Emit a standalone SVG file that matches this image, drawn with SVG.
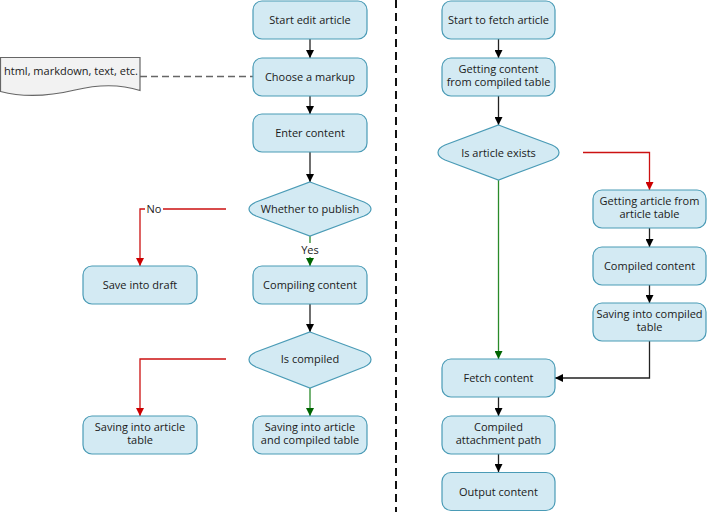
<svg xmlns="http://www.w3.org/2000/svg" width="707" height="512" viewBox="0 0 707 512">
<style>
.box{fill:#d3eaf3;stroke:#4a9bb6;stroke-width:1.2}
.t{font-family:"Open Sans","Noto Sans",sans-serif;font-size:11px;fill:#1a1a1a;text-anchor:middle}
.blk{stroke:#222;stroke-width:1.3;fill:none}
.red{stroke:#cc1111;stroke-width:1.3;fill:none}
.grn{stroke:#2a8a2a;stroke-width:1.3;fill:none}
</style>
<defs>
<marker id="ab" viewBox="0 0 10 10" refX="10" refY="5" markerWidth="8" markerHeight="8" markerUnits="userSpaceOnUse" orient="auto"><path d="M0,0 L10,5 L0,10 Z" fill="#000"/></marker>
<marker id="ar" viewBox="0 0 10 10" refX="10" refY="5" markerWidth="8" markerHeight="8" markerUnits="userSpaceOnUse" orient="auto"><path d="M0,0 L10,5 L0,10 Z" fill="#cc0000"/></marker>
<marker id="ag" viewBox="0 0 10 10" refX="10" refY="5" markerWidth="8" markerHeight="8" markerUnits="userSpaceOnUse" orient="auto"><path d="M0,0 L10,5 L0,10 Z" fill="#006400"/></marker>
</defs>
<rect width="707" height="512" fill="#fff"/>
<line x1="396" y1="0" x2="396" y2="512" stroke="#111" stroke-width="2" stroke-dasharray="8,5"/>
<g id="connectors">
<line class="blk" x1="310" y1="39" x2="310" y2="58" marker-end="url(#ab)"/>
<line class="blk" x1="310" y1="96" x2="310" y2="114" marker-end="url(#ab)"/>
<line class="blk" x1="310" y1="152" x2="310" y2="182" marker-end="url(#ab)"/>
<line x1="140" y1="76.5" x2="253" y2="76.5" stroke="#666" stroke-width="1.5" stroke-dasharray="7,4"/>
<polyline class="red" points="226,209 140,209 140,266" marker-end="url(#ar)"/>
<line class="grn" x1="310" y1="236" x2="310" y2="266" marker-end="url(#ag)"/>
<line class="blk" x1="310" y1="304" x2="310" y2="332" marker-end="url(#ab)"/>
<polyline class="red" points="226,359 140,359 140,416" marker-end="url(#ar)"/>
<line class="grn" x1="310" y1="388" x2="310" y2="416" marker-end="url(#ag)"/>
<line class="blk" x1="498.5" y1="39" x2="498.5" y2="58" marker-end="url(#ab)"/>
<line class="blk" x1="498.5" y1="96" x2="498.5" y2="125" marker-end="url(#ab)"/>
<polyline class="red" points="583,152.5 649.5,152.5 649.5,190" marker-end="url(#ar)"/>
<line class="grn" x1="498.5" y1="180" x2="498.5" y2="359" marker-end="url(#ag)"/>
<line class="blk" x1="649.5" y1="228" x2="649.5" y2="247" marker-end="url(#ab)"/>
<line class="blk" x1="649.5" y1="285" x2="649.5" y2="303" marker-end="url(#ab)"/>
<polyline class="blk" points="649.5,341 649.5,378 555,378" marker-end="url(#ab)"/>
<line class="blk" x1="498.5" y1="397" x2="498.5" y2="416" marker-end="url(#ab)"/>
<line class="blk" x1="498.5" y1="454" x2="498.5" y2="472" marker-end="url(#ab)"/>
<rect x="145" y="202" width="18" height="14" fill="#fff"/>
<text class="t" x="154" y="213">No</text>
<rect x="299" y="243" width="22" height="14" fill="#fff"/>
<text class="t" x="310" y="254">Yes</text>
</g>
<g id="doc">
<path d="M0.5,57.5 L140,57.5 L140,90.5 C120,84 100,84 75,90 C50,96 25,98 0.5,91.5 Z" fill="#f2f2f2" stroke="#666" stroke-width="1.2"/>
<text class="t" x="71" y="75">html, markdown, text, etc.</text>
</g>
<g id="n1"><rect class="box" x="253" y="1" width="114" height="38" rx="9"/><text class="t" x="310" y="24">Start edit article</text></g>
<g id="n2"><rect class="box" x="253" y="58" width="114" height="38" rx="9"/><text class="t" x="310" y="81">Choose a markup</text></g>
<g id="n3"><rect class="box" x="253" y="114" width="114" height="38" rx="9"/><text class="t" x="310" y="137">Enter content</text></g>
<g id="d1"><path class="box" d="M310,182 L364,202 Q371,205 371,209 Q371,213 364,216 L310,236 L256,216 Q249,213 249,209 Q249,205 256,202 Z"/><text class="t" x="310" y="213">Whether to publish</text></g>
<g id="n4"><rect class="box" x="83" y="266" width="114" height="38" rx="9"/><text class="t" x="140" y="289">Save into draft</text></g>
<g id="n5"><rect class="box" x="253" y="266" width="114" height="38" rx="9"/><text class="t" x="310" y="289">Compiling content</text></g>
<g id="d2"><path class="box" d="M310,332 L364,352 Q371,355 371,359.5 Q371,364 364,367 L310,388 L256,367 Q249,364 249,359.5 Q249,355 256,352 Z"/><text class="t" x="310" y="363">Is compiled</text></g>
<g id="n6"><rect class="box" x="83" y="416" width="114" height="38" rx="9"/><text class="t" x="140" y="430.5">Saving into article</text><text class="t" x="140" y="444">table</text></g>
<g id="n7"><rect class="box" x="253" y="416" width="114" height="38" rx="9"/><text class="t" x="310" y="430.5">Saving into article</text><text class="t" x="310" y="444">and compiled table</text></g>
<g id="r1"><rect class="box" x="442" y="1" width="113" height="38" rx="9"/><text class="t" x="498.5" y="24">Start to fetch article</text></g>
<g id="r2"><rect class="box" x="442" y="58" width="113" height="38" rx="9"/><text class="t" x="498.5" y="72.5">Getting content</text><text class="t" x="498.5" y="86">from compiled table</text></g>
<g id="d3"><path class="box" d="M498.5,125 L552,145 Q559,148 559,152.5 Q559,157 552,160 L498.5,180 L445,160 Q438,157 438,152.5 Q438,148 445,145 Z"/><text class="t" x="498.5" y="156.5">Is article exists</text></g>
<g id="r3"><rect class="box" x="593" y="190" width="113" height="38" rx="9"/><text class="t" x="649.5" y="204.5">Getting article from</text><text class="t" x="649.5" y="218">article table</text></g>
<g id="r4"><rect class="box" x="593" y="247" width="113" height="38" rx="9"/><text class="t" x="649.5" y="270">Compiled content</text></g>
<g id="r5"><rect class="box" x="593" y="303" width="113" height="38" rx="9"/><text class="t" x="649.5" y="317.5">Saving into compiled</text><text class="t" x="649.5" y="331">table</text></g>
<g id="r6"><rect class="box" x="442" y="359" width="113" height="38" rx="9"/><text class="t" x="498.5" y="382">Fetch content</text></g>
<g id="r7"><rect class="box" x="442" y="416" width="113" height="38" rx="9"/><text class="t" x="498.5" y="430.5">Compiled</text><text class="t" x="498.5" y="444">attachment path</text></g>
<g id="r8"><rect class="box" x="442" y="472.5" width="113" height="38" rx="9"/><text class="t" x="498.5" y="495.5">Output content</text></g>
</svg>
